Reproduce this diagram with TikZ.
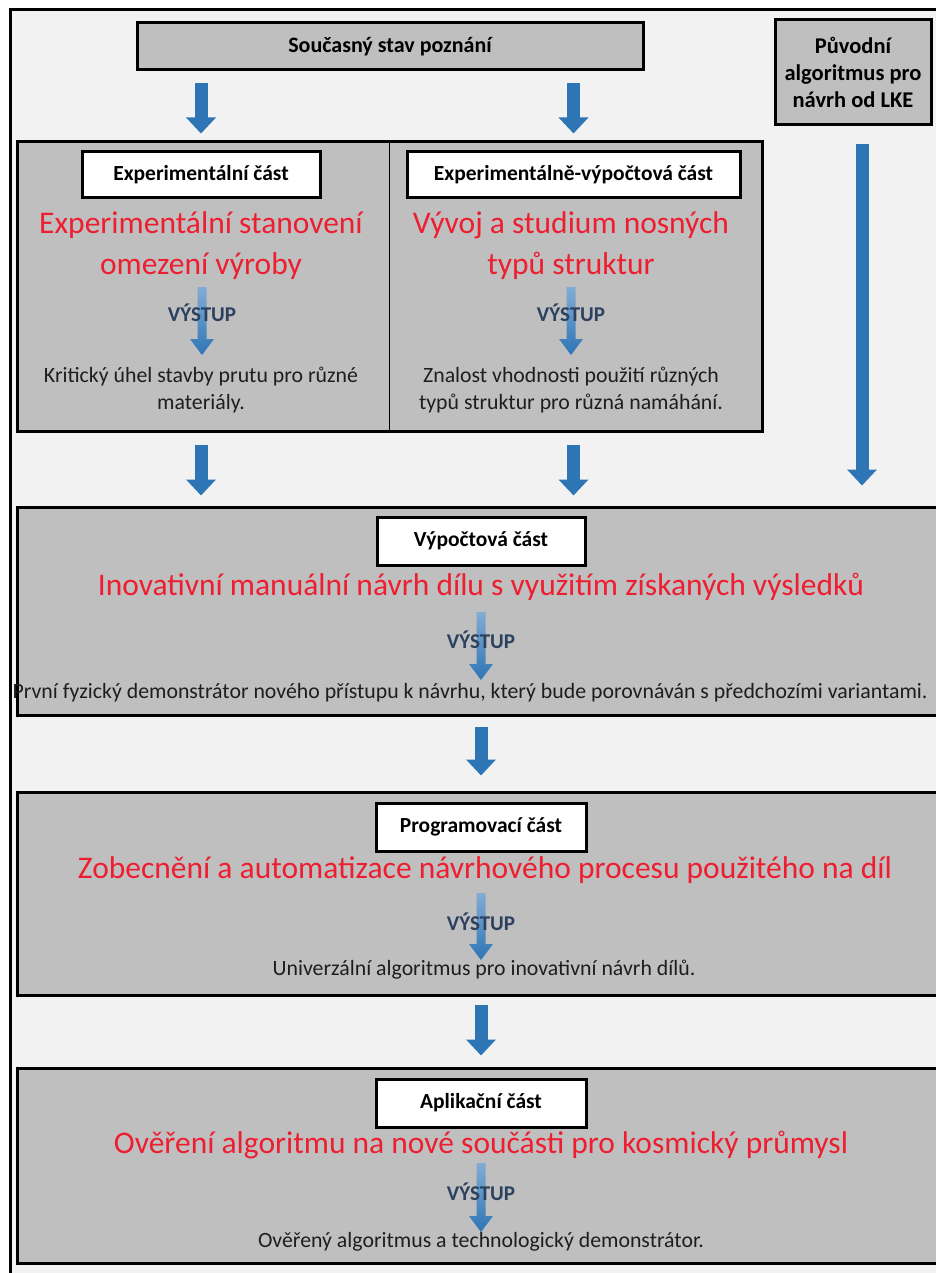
\documentclass[tikz,border=0pt]{standalone}
\usepackage{fontspec}
\setmainfont{Carlito}
\usetikzlibrary{arrows.meta,positioning,calc}

\definecolor{panelgray}{RGB}{191,191,191}
\definecolor{pagegray}{RGB}{242,242,242}
\definecolor{arrblue}{RGB}{46,117,182}
\definecolor{goalred}{RGB}{238,30,48}
\definecolor{outblue}{RGB}{44,64,96}
\definecolor{textdark}{RGB}{30,30,30}

% shaded "VYSTUP" arrow between two coordinates
\newcommand{\vystuparrow}[2]{%
  \shade[top color=arrblue!60!white, middle color=white, bottom color=arrblue]
    ($(#1)+(-4.5,0)$) -- ($(#2)+(-4.5,-16)$) -- ($(#2)+(-12,-16)$) -- (#2)
    -- ($(#2)+(12,-16)$) -- ($(#2)+(4.5,-16)$) -- ($(#1)+(4.5,0)$) -- cycle;}

\begin{document}
\begin{tikzpicture}[
    x=1pt, y=-1pt,
    panel/.style={draw, line width=3pt, fill=panelgray, inner sep=0pt},
    tag/.style={draw, line width=3pt, fill=white, inner sep=0pt, font=\fontsize{21.5}{25}\selectfont\bfseries},
    goal/.style={text=goalred, align=center, font=\fontsize{31.5}{41}\selectfont},
    result/.style={text=textdark, align=center, font=\fontsize{21.8}{27}\selectfont},
    outlbl/.style={text=outblue, font=\fontsize{21}{23}\selectfont\bfseries},
    blockarr/.style={draw=arrblue, line width=13pt, -{Triangle[length=16pt,width=29pt]}}
  ]
    \useasboundingbox (0,0) rectangle (936,1273);
    \clip (0,0) rectangle (936,1273);
    \fill[white] (0,0) rectangle (936,1273);
    \draw[line width=3pt, fill=pagegray] (10,10) rectangle (960,1300);

    % top row
    \node[panel, minimum width=506pt, minimum height=47pt, font=\fontsize{22}{25}\selectfont\bfseries] (stav) at (390,46.5) {Současný stav poznání};
    \node[panel, minimum width=156pt, minimum height=105pt, align=center, font=\fontsize{22.5}{27}\selectfont\bfseries] (lke) at (853,72.5) {Původní\\algoritmus pro\\návrh od LKE};

    % experimental part
    \node[panel, minimum width=745pt, minimum height=289pt] (exp) at (389.5,286.5) {};
    \draw[line width=1.2pt] (exp.north) -- (exp.south);
    \node[tag, minimum width=238pt, minimum height=46pt] (explab) at (201,175) {Experimentální část};
    \node[tag, minimum width=333pt, minimum height=46pt] (evlab) at (573.5,175) {Experimentálně-výpočtová část};

    \node[goal] (expgoal) at (201,245.5) {Experimentální stanovení\\omezení výroby};
    \coordinate (expa) at (202,287);
    \coordinate (expb) at (202,355);
    \vystuparrow{expa}{expb}
    \node[outlbl] (expout) at (202,313) {VÝSTUP};
    \node[result] (expres) at (201,390.5) {Kritický úhel stavby prutu pro různé\\materiály.};

    \node[goal] (evgoal) at (571,245.5) {Vývoj a studium nosných\\typů struktur};
    \coordinate (eva) at (571,287);
    \coordinate (evb) at (571,355);
    \vystuparrow{eva}{evb}
    \node[outlbl] (evout) at (571,313) {VÝSTUP};
    \node[result] (evres) at (571,390.5) {Znalost vhodnosti použití různých\\typů struktur pro různá namáhání.};

    % computational part
    \node[panel, minimum width=928pt, minimum height=208pt] (vyp) at (481,611) {};
    \node[tag, minimum width=208pt, minimum height=48pt] (vyplab) at (481,541) {Výpočtová část};
    \node[goal] (vypgoal) at (481,587) {Inovativní manuální návrh dílu s využitím získaných výsledků};
    \coordinate (vypa) at (481,612);
    \coordinate (vypb) at (481,680);
    \vystuparrow{vypa}{vypb}
    \node[outlbl] (vypout) at (481,640) {VÝSTUP};
    \node[result] (vypres) at (470,693) {První fyzický demonstrátor nového přístupu k návrhu, který bude porovnáván s předchozími variantami.};

    % programming part
    \node[panel, minimum width=928pt, minimum height=203pt] (prog) at (481,893.5) {};
    \node[tag, minimum width=210pt, minimum height=48pt] (proglab) at (481,827) {Programovací část};
    \node[goal] (proggoal) at (485,870) {Zobecnění a automatizace návrhového procesu použitého na díl};
    \coordinate (proga) at (481,893);
    \coordinate (progb) at (481,960);
    \vystuparrow{proga}{progb}
    \node[outlbl] (progout) at (481,922) {VÝSTUP};
    \node[result] (progres) at (484,970) {Univerzální algoritmus pro inovativní návrh dílů.};

    % application part
    \node[panel, minimum width=928pt, minimum height=195pt] (apl) at (481,1165.5) {};
    \node[tag, minimum width=210pt, minimum height=48pt] (apllab) at (481,1103) {Aplikační část};
    \node[goal] (aplgoal) at (481,1145) {Ověření algoritmu na nové součásti pro kosmický průmysl};
    \coordinate (apla) at (481,1163);
    \coordinate (aplb) at (481,1232);
    \vystuparrow{apla}{aplb}
    \node[outlbl] (aplout) at (481,1192) {VÝSTUP};
    \node[result] (aplres) at (481,1242) {Ověřený algoritmus a technologický demonstrátor.};

    % flow arrows
    \coordinate (lkeout) at ([xshift=9pt]lke.south);
    \draw[blockarr, shorten <=12pt, shorten >=7pt] (stav.south -| explab) -- (exp.north -| explab);
    \draw[blockarr, shorten <=12pt, shorten >=7pt] (stav.south -| evlab) -- (exp.north -| evlab);
    \draw[blockarr, shorten <=18pt, shorten >=20pt] (lkeout) -- (lkeout |- vyp.north);
    \draw[blockarr, shorten <=12pt, shorten >=10pt] (exp.south -| explab) -- (vyp.north -| explab);
    \draw[blockarr, shorten <=12pt, shorten >=10pt] (exp.south -| evlab) -- (vyp.north -| evlab);
    \draw[blockarr, shorten <=10pt, shorten >=15pt] (vyp) -- (prog) ;
    \draw[blockarr, shorten <=8pt, shorten >=11pt] (prog) -- (apl);
  \end{tikzpicture}
\end{document}
